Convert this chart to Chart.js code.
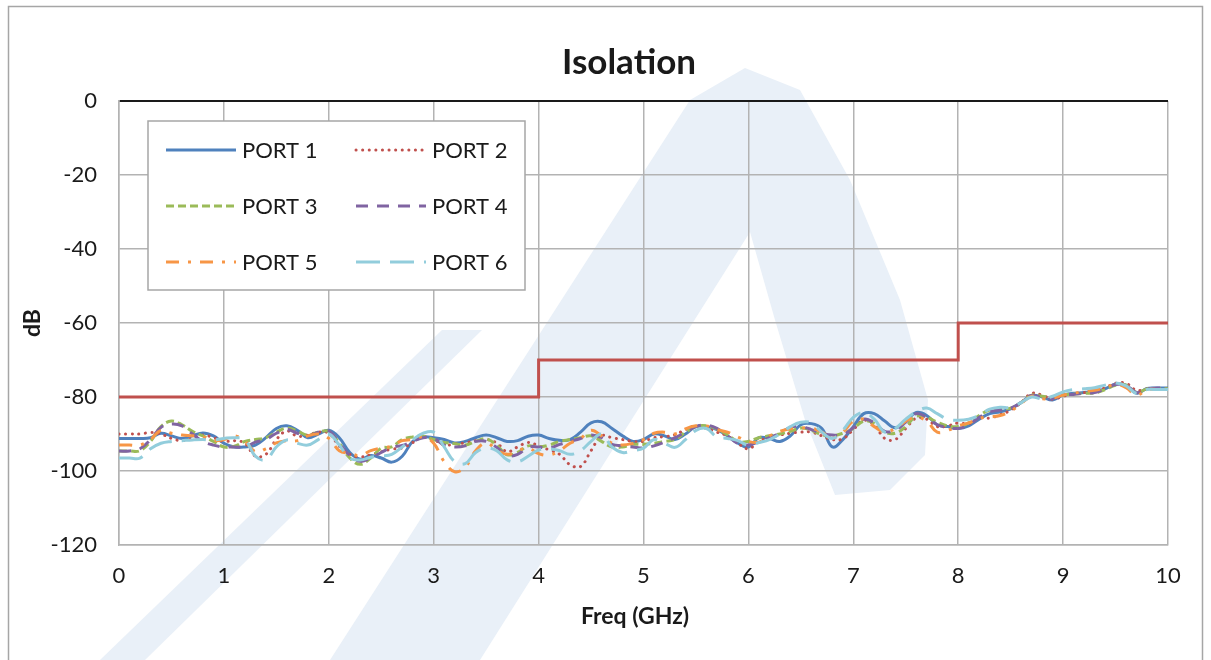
<!DOCTYPE html>
<html>
<head>
<meta charset="utf-8">
<script src="https://cdn.jsdelivr.net/npm/chart.js@4.4.1/dist/chart.umd.min.js"></script>
<style>
  html, body { margin: 0; padding: 0; background: #fff; }
  #wrap { width: 1211px; height: 660px; }
</style>
</head>
<body>
<div id="wrap"><canvas id="isoChart" width="1211" height="660"></canvas></div>
<script>
// Frequency points (GHz)
const freq = [
  0, 0.1, 0.2, 0.3, 0.4, 0.5, 0.6, 0.7, 0.8, 0.9,
  1, 1.1, 1.2, 1.3, 1.4, 1.5, 1.6, 1.7, 1.8, 1.9,
  2, 2.1, 2.2, 2.3, 2.4, 2.5, 2.6, 2.7, 2.8, 2.9,
  3, 3.1, 3.2, 3.3, 3.4, 3.5, 3.6, 3.7, 3.8, 3.9,
  4, 4.1, 4.2, 4.3, 4.4, 4.5, 4.6, 4.7, 4.8, 4.9,
  5, 5.1, 5.2, 5.3, 5.4, 5.5, 5.6, 5.7, 5.8, 5.9,
  6, 6.1, 6.2, 6.3, 6.4, 6.5, 6.6, 6.7, 6.8, 6.9,
  7, 7.1, 7.2, 7.3, 7.4, 7.5, 7.6, 7.7, 7.8, 7.9,
  8, 8.1, 8.2, 8.3, 8.4, 8.5, 8.6, 8.7, 8.8, 8.9,
  9, 9.1, 9.2, 9.3, 9.4, 9.5, 9.6, 9.7, 9.8, 9.9,
  10
];

// Isolation per port (dB)
const port1 = [
  -91.2, -91.2, -91.2, -91.0, -89.8, -90.5, -91.2, -90.5, -89.7, -90.5,
  -92.5, -93.5, -93.5, -93.0, -91.0, -88.5, -87.8, -89.0, -91.0, -90.0,
  -89.0, -91.0, -95.0, -96.8, -95.8, -96.5, -97.6, -96.0, -92.0, -90.8,
  -91.0, -91.5, -92.4, -92.0, -91.0, -90.3, -91.0, -92.0, -91.8, -90.6,
  -90.3, -91.2, -91.7, -91.5, -89.5, -87.0, -86.7, -88.5, -90.5, -92.0,
  -91.5, -90.0, -90.5, -91.5, -90.0, -88.0, -88.0, -88.8, -90.5, -92.5,
  -93.5, -91.0, -91.2, -92.0, -90.5, -87.5, -87.2, -88.5, -93.5, -91.5,
  -88.0, -84.5, -84.5, -86.5, -88.3, -86.5, -84.2, -85.0, -87.5, -88.0,
  -88.5, -87.8, -86.0, -84.5, -84.0, -83.2, -81.5, -79.6, -80.0, -80.8,
  -79.5, -79.0, -78.8, -78.3, -77.8, -76.5, -76.8, -79.0, -77.7, -77.6,
  -77.6
];
const port2 = [
  -90.0, -90.0, -90.0, -89.6, -90.0, -91.2, -91.8, -91.2, -90.3, -91.0,
  -92.0, -91.8, -92.5, -96.0, -95.5, -91.5, -89.2, -90.6, -90.3, -89.5,
  -89.8, -93.3, -95.5, -96.2, -95.6, -94.8, -94.1, -93.8, -92.3, -90.8,
  -91.5, -93.0, -92.7, -92.4, -91.8, -91.5, -92.4, -94.8, -93.5, -92.3,
  -93.2, -94.3, -95.5, -98.3, -98.8, -94.5, -90.5, -91.0, -91.5, -92.0,
  -92.0, -91.0, -90.7, -90.2, -88.8, -87.8, -88.5, -89.5, -90.5, -92.5,
  -94.0, -92.0, -91.0, -90.3, -89.8, -89.5, -89.5, -90.5, -91.5, -91.3,
  -88.8, -86.3, -87.6, -91.2, -91.5, -88.5, -85.7, -86.0, -88.0, -87.8,
  -87.0, -87.2, -85.7, -85.7, -84.8, -83.6, -81.5, -79.0, -79.5, -80.6,
  -79.8, -79.2, -78.8, -78.3, -77.5, -76.3, -76.3, -78.2, -77.8, -77.8,
  -77.8
];
const port3 = [
  -94.6, -94.6, -94.5, -92.0, -88.0, -86.5, -87.5, -89.3, -90.5, -92.0,
  -93.5, -93.3, -92.0, -91.5, -91.0, -89.5, -88.4, -89.2, -90.3, -89.5,
  -89.3, -92.5, -96.5, -98.2, -96.5, -93.8, -93.5, -91.5, -90.8, -90.6,
  -91.5, -92.3, -92.6, -93.0, -92.0, -91.3, -93.0, -95.6, -95.0, -93.2,
  -93.5, -93.0, -92.0, -91.5, -91.0, -90.5, -92.0, -93.5, -93.5, -92.8,
  -92.8, -92.5, -92.0, -91.5, -89.5, -88.0, -87.8, -88.6, -90.2, -92.0,
  -92.0, -91.0, -90.5, -90.0, -89.3, -88.4, -89.0, -90.2, -90.5, -89.8,
  -88.5, -86.5, -87.2, -89.5, -89.8, -88.0, -85.2, -85.5, -86.8, -87.8,
  -88.0, -87.0, -85.0, -83.5, -83.2, -83.0, -81.5, -79.5, -79.8, -80.2,
  -79.5, -79.2, -79.0, -78.9, -78.0, -76.8, -76.8, -78.8, -77.8, -77.8,
  -77.8
];
const port4 = [
  -94.6, -94.6, -94.0, -91.5, -88.2, -87.3, -87.8, -90.0, -92.0, -93.0,
  -93.5, -93.5, -93.5, -92.2, -91.5, -89.8, -88.8, -89.8, -90.5, -89.5,
  -89.2, -92.5, -95.8, -97.4, -96.5, -95.0, -93.6, -93.1, -92.0, -91.0,
  -91.2, -93.0, -93.5, -93.2, -92.0, -92.0, -93.6, -95.8, -95.5, -93.6,
  -93.5, -93.8, -92.8, -92.0, -91.2, -90.3, -91.0, -92.8, -93.2, -93.5,
  -93.8, -93.2, -92.2, -91.0, -89.5, -88.0, -87.6, -88.5, -90.5, -92.5,
  -93.0, -92.0, -91.0, -89.8, -88.2, -88.0, -88.8, -89.8, -90.3, -90.2,
  -88.3, -86.0, -87.0, -89.3, -89.0, -86.8, -84.5, -85.5, -87.5, -88.2,
  -88.5, -87.5, -85.5, -84.0, -83.5, -83.0, -81.5, -79.6, -80.2, -80.5,
  -79.5, -79.3, -79.0, -78.8, -77.8, -76.6, -76.8, -78.8, -77.8, -77.6,
  -77.6
];
const port5 = [
  -93.0, -93.0, -93.0, -91.5, -89.0, -89.8, -90.3, -90.5, -90.8, -91.8,
  -91.5, -90.5, -92.0, -94.8, -94.0, -92.4, -91.8, -91.8, -90.5, -90.0,
  -91.2, -94.5, -95.2, -95.8, -94.5, -93.8, -93.3, -91.8, -91.5, -90.8,
  -92.5, -97.5, -100.2, -99.0, -94.5, -92.4, -94.2, -95.5, -94.5, -93.8,
  -95.3, -95.7, -94.5, -92.5, -91.2, -89.0, -90.5, -92.5, -93.0, -92.5,
  -91.5, -89.8, -89.5, -90.0, -88.6, -87.8, -87.8, -88.8, -89.5, -90.8,
  -92.0, -92.2, -90.5, -89.3, -88.6, -88.4, -88.4, -89.5, -91.0, -89.5,
  -86.5, -86.0, -88.0, -89.5, -88.5, -86.5, -85.5, -86.5, -89.5, -89.0,
  -87.8, -87.0, -85.8, -85.4, -85.0, -83.8, -81.8, -79.8, -80.5, -80.3,
  -79.5, -79.0, -78.5, -78.2, -77.5, -76.6, -77.5, -79.5, -78.0, -78.0,
  -78.0
];
const port6 = [
  -96.5, -96.5, -96.5, -94.0, -92.5, -92.0, -91.8, -91.6, -91.5, -91.6,
  -91.2, -91.0, -91.5, -96.0, -97.0, -93.5, -91.6, -92.5, -93.0, -91.5,
  -90.0, -93.0, -96.5, -97.0, -96.3, -96.0, -95.5, -93.5, -91.5, -89.8,
  -89.5, -93.5, -97.5, -98.0, -95.0, -93.8, -94.5, -97.0, -97.5, -96.0,
  -94.3, -94.0, -94.5, -95.5, -94.5, -92.0, -90.0, -93.5, -95.0, -94.5,
  -93.8, -91.5, -92.5, -93.6, -91.5, -89.0, -88.5, -90.8, -91.2, -91.8,
  -93.0, -92.3, -91.5, -90.0, -88.0, -86.8, -87.0, -89.5, -91.2, -89.0,
  -85.5, -84.2, -86.0, -89.5, -88.5, -86.0, -84.0, -83.0, -84.5, -86.0,
  -86.3, -86.0, -85.0, -83.3, -82.8, -82.8, -81.5, -80.0, -80.5, -79.8,
  -78.6, -78.0, -77.8, -77.5, -76.8, -76.2, -77.0, -79.0, -78.0, -78.0,
  -78.0
];

// Specification limit (stepped)
const limitFreq = [0, 4, 4, 8, 8, 10];
const limitDb = [-80, -80, -70, -70, -60, -60];

const portNames = ['PORT 1', 'PORT 2', 'PORT 3', 'PORT 4', 'PORT 5', 'PORT 6'];
const xTicks = [0, 1, 2, 3, 4, 5, 6, 7, 8, 9, 10];
const yTicks = [0, -20, -40, -60, -80, -100, -120];

const FONT = 'Lato, "Open Sans", sans-serif';
const TEXT = '#1a1a1a';

const toPoints = (xs, ys) => xs.map((x, i) => ({ x: x, y: ys[i] }));

const portStyles = [
  { color: '#4f81bd', dash: [], cap: 'butt' },
  { color: '#c0504d', dash: [0.1, 6.5], cap: 'round' },
  { color: '#9bbb59', dash: [8, 4], cap: 'butt' },
  { color: '#8064a2', dash: [12, 9], cap: 'butt' },
  { color: '#f79646', dash: [13, 9, 3, 9], cap: 'butt' },
  { color: '#92cddc', dash: [24, 10], cap: 'butt' }
];
const portData = [port1, port2, port3, port4, port5, port6];

const datasets = portData.map((vals, i) => ({
  label: portNames[i],
  data: toPoints(freq, vals),
  borderColor: portStyles[i].color,
  borderDash: portStyles[i].dash,
  borderCapStyle: portStyles[i].cap,
  borderWidth: 3,
  pointRadius: 0,
  tension: 0.4,
  fill: false,
  order: 10 - i
}));

datasets.push({
  label: 'Limit',
  data: toPoints(limitFreq, limitDb),
  borderColor: '#c0504d',
  borderWidth: 3,
  pointRadius: 0,
  tension: 0,
  fill: false,
  order: 1
});

// Page frame, faint logo watermark and titles
const framePlugin = {
  id: 'frame',
  beforeDraw(chart) {
    const c = chart.ctx;
    c.save();
    c.fillStyle = '#ffffff';
    c.fillRect(0, 0, chart.width, chart.height);

    // faint watermark behind the plot
    c.fillStyle = '#e9f0f8';
    const shapes = [
      [[100, 660], [145, 660], [482, 330], [442, 330]],
      [[330, 660], [690, 100], [745, 68], [800, 90], [850, 180], [900, 300],
       [928, 400], [925, 455], [890, 490], [835, 495], [805, 420], [775, 320],
       [750, 232], [480, 660]]
    ];
    shapes.forEach(pts => {
      c.beginPath();
      pts.forEach((p, i) => (i ? c.lineTo(p[0], p[1]) : c.moveTo(p[0], p[1])));
      c.closePath();
      c.fill();
    });

    c.strokeStyle = '#a6a6a6';
    c.lineWidth = 1.5;
    c.strokeRect(8.5, 6.5, chart.width - 17, chart.height + 20);
    c.restore();
  },
  afterDraw(chart) {
    const c = chart.ctx;
    c.save();
    c.fillStyle = TEXT;
    c.textAlign = 'center';
    c.textBaseline = 'middle';
    c.font = 'bold 35px ' + FONT;
    c.fillText('Isolation', 629, 63);
    c.font = 'bold 23px ' + FONT;
    c.fillText('Freq (GHz)', 635, 617);
    c.translate(33, 323);
    c.rotate(-Math.PI / 2);
    c.fillText('dB', 0, 0);
    c.restore();
  }
};

// Excel style legend box in the upper left of the plot
const boxLegend = {
  id: 'boxLegend',
  afterDraw(chart) {
    const c = chart.ctx;
    const a = chart.chartArea;
    const bx = a.left + 29, by = a.top + 20, bw = 377, bh = 169;
    c.save();
    c.fillStyle = '#ffffff';
    c.fillRect(bx, by, bw, bh);
    c.strokeStyle = '#a6a6a6';
    c.lineWidth = 1.5;
    c.strokeRect(bx, by, bw, bh);
    c.font = '22px ' + FONT;
    c.fillStyle = TEXT;
    c.textBaseline = 'middle';
    chart.data.datasets.slice(0, 6).forEach((ds, i) => {
      const col = i % 2, row = Math.floor(i / 2);
      const lx = bx + 18 + col * 190;
      const ly = by + 29 + row * 56;
      c.beginPath();
      c.strokeStyle = ds.borderColor;
      c.lineWidth = 3;
      c.lineCap = ds.borderCapStyle;
      c.setLineDash(ds.borderDash);
      c.moveTo(lx, ly);
      c.lineTo(lx + 70, ly);
      c.stroke();
      c.setLineDash([]);
      c.lineCap = 'butt';
      c.fillText(ds.label, lx + 76, ly + 1);
    });
    c.restore();
  }
};

const ctx = document.getElementById('isoChart').getContext('2d');
new Chart(ctx, {
  type: 'line',
  data: { datasets: datasets },
  options: {
    responsive: false,
    animation: false,
    devicePixelRatio: 1,
    layout: { padding: { left: 0, right: 43, top: 101, bottom: 0 } },
    plugins: {
      legend: { display: false },
      tooltip: { enabled: false },
      title: { display: false }
    },
    scales: {
      x: {
        type: 'linear',
        min: 0,
        max: 10,
        afterBuildTicks: (axis) => { axis.ticks = xTicks.map(v => ({ value: v })); },
        afterFit: (axis) => { axis.height = 115; },
        ticks: {
          color: TEXT,
          font: { family: FONT, size: 22 },
          padding: 18,
          maxRotation: 0
        },
        grid: { color: '#b3b3b3', lineWidth: 1.5, drawTicks: false },
        border: { color: '#b3b3b3', width: 1.5 }
      },
      y: {
        type: 'linear',
        min: -120,
        max: 0,
        afterBuildTicks: (axis) => { axis.ticks = yTicks.map(v => ({ value: v })); },
        afterFit: (axis) => { axis.width = 119; },
        ticks: {
          color: TEXT,
          font: { family: FONT, size: 22 },
          padding: 22
        },
        grid: {
          color: (c) => (c.tick && c.tick.value === 0 ? TEXT : '#b3b3b3'),
          lineWidth: (c) => (c.tick && c.tick.value === 0 ? 2 : 1.5),
          drawTicks: false
        },
        border: { color: '#b3b3b3', width: 1.5 }
      }
    }
  },
  plugins: [framePlugin, boxLegend]
});
</script>
</body>
</html>
